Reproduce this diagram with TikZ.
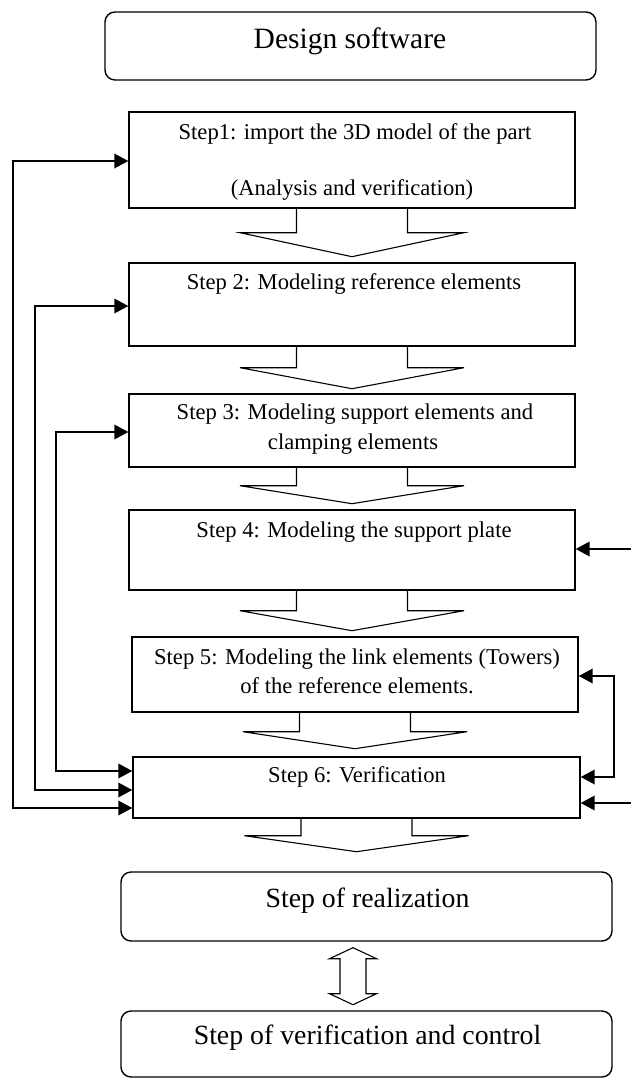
\documentclass[tikz,border=0pt]{standalone}
\usepackage{fontspec}
\setmainfont{Liberation Serif}
\usetikzlibrary{arrows.meta,calc}

% hollow down arrow hanging under a box: #1 box, #2 stem length, #3 head length
\newcommand\flowarrow[3]{%
  \draw[blockline] ([xshift=-55.5pt]#1.south) -- ++(0,#2) -- ++(-56.5,0)
    -- ++(112,#3) -- ++(112,-#3) -- ++(-56.5,0) -- ++(0,-#2);
}

\begin{document}
\begin{tikzpicture}[x=1pt,y=-1pt,
  stepbox/.style={draw, line width=1.4pt, inner sep=0pt},
  roundbox/.style={draw, line width=1.4pt, rounded corners=10pt, inner sep=0pt},
  steptext/.style={font=\fontsize{22.6}{27}\selectfont, inner sep=0pt,
                   text height=0.69em, text depth=0.22em},
  bigtext/.style={font=\fontsize{29.5}{35}\selectfont, inner sep=0pt,
                  text height=0.69em, text depth=0.22em},
  midtext/.style={font=\fontsize{27.8}{33}\selectfont, inner sep=0pt,
                  text height=0.69em, text depth=0.22em},
  blockline/.style={line width=1.1pt, line join=miter},
  link/.style={line width=2pt},
  >={Triangle[length=14pt,width=14.5pt]}
]
\useasboundingbox (0,0) rectangle (631,1078);

% frames
\node[roundbox, minimum width=491pt, minimum height=68pt] (design) at (350.5,46) {};
\node[stepbox, minimum width=446pt, minimum height=96pt] (s1) at (352,160) {};
\node[stepbox, minimum width=446pt, minimum height=83pt] (s2) at (352,304.5) {};
\node[stepbox, minimum width=446pt, minimum height=73pt] (s3) at (352,430.5) {};
\node[stepbox, minimum width=446pt, minimum height=80pt] (s4) at (352,550) {};
\node[stepbox, minimum width=446pt, minimum height=75pt] (s5) at (355,674.5) {};
\node[stepbox, minimum width=447pt, minimum height=61pt] (s6) at (356.5,787.5) {};
\node[roundbox, minimum width=491pt, minimum height=69pt] (real) at (366.5,906.5) {};
\node[roundbox, minimum width=491pt, minimum height=66pt] (ctrl) at (366.5,1044) {};

% labels
\node[bigtext] (tdesign) at (350,46) {Design software};
\node[steptext] (t1a) at (355,137) {Step1: import the 3D model of the part};
\node[steptext] (t1b) at (352,193) {(Analysis and verification)};
\node[steptext] (t2) at (354,287) {Step 2: Modeling reference elements};
\node[steptext] (t3a) at (355,417) {Step 3: Modeling support elements and};
\node[steptext] (t3b) at (353,447) {clamping elements};
\node[steptext] (t4) at (354,535) {Step 4: Modeling the support plate};
\node[steptext] (t5a) at (357,662) {Step 5: Modeling the link elements (Towers)};
\node[steptext] (t5b) at (357,691) {of the reference elements.};
\node[steptext] (t6) at (357,780) {Step 6: Verification};
\node[midtext] (treal) at (367.5,905.5) {Step of realization};
\node[midtext] (tctrl) at (367.5,1042.5) {Step of verification and control};

% hollow arrows between steps
\flowarrow{s1}{24}{24}
\flowarrow{s2}{21}{21}
\flowarrow{s3}{18}{18}
\flowarrow{s4}{20}{20}
\flowarrow{s5}{19}{17}
\flowarrow{s6}{17}{16}

% hollow double arrow
\coordinate (dt) at ($(real.south)+(-13.5,6)$);
\draw[blockline] (dt) -- ++(23.5,11) -- ++(-10.5,0) -- ++(0,35) -- ++(10.5,0)
  -- ++(-23.5,11) -- ++(-23.5,-11) -- ++(10.5,0) -- ++(0,-35) -- ++(-10.5,0) -- cycle;

% feedback links on the left
\draw[link,<->] ([yshift=-1pt]s1.west) -- ++(-115,0) |- ([yshift=-20.5pt]s6.west);
\draw[link,<->] ([yshift=-1.5pt]s2.west) -- ++(-93,0) |- ([yshift=-2.5pt]s6.west);
\draw[link,<->] ([yshift=-1.5pt]s3.west) -- ++(-72,0) |- ([yshift=16.5pt]s6.west);

% links on the right
\coordinate (in4) at (631,549);
\coordinate (in6) at (631,803);
\draw[link,->] (in4) -- ([yshift=1pt]s4.east);
\draw[link,<->] ([yshift=-1.5pt]s5.east) -- ++(35,0) |- ([yshift=10.5pt]s6.east);
\draw[link,->] (in6) -- ([yshift=-15.5pt]s6.east);
\end{tikzpicture}
\end{document}
